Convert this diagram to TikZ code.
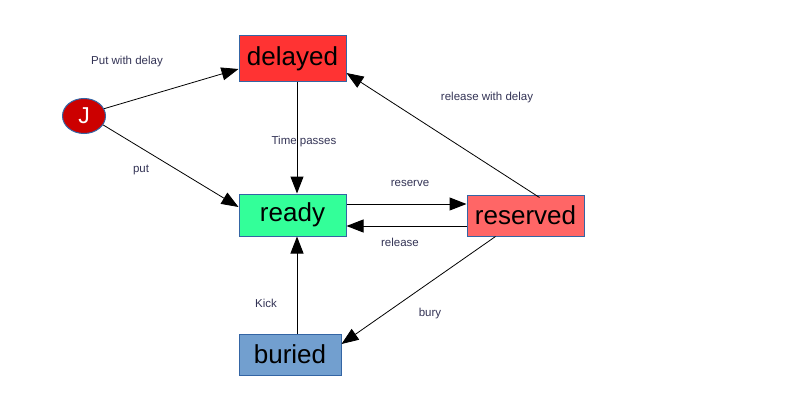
\documentclass[tikz,border=0pt]{standalone}
\usepackage{fontspec}
\setmainfont{Liberation Sans}
\usetikzlibrary{arrows.meta,shapes.geometric}
\definecolor{bord}{HTML}{3465A4}
\definecolor{cdel}{HTML}{FF3333}
\definecolor{crdy}{HTML}{33FF99}
\definecolor{cres}{HTML}{FF6666}
\definecolor{cbur}{HTML}{729FCF}
\definecolor{cj}{HTML}{CC0000}
\definecolor{lbl}{HTML}{333355}
\tikzset{
  state/.style={draw=bord, line width=1pt, rectangle, inner sep=0pt, font=\fontsize{26}{28}\selectfont, text=black},
  lab/.style={font=\fontsize{11.5}{13}\selectfont, text=lbl, inner sep=0pt},
  arr/.style={-{Triangle[length=17pt,width=13pt]}, line width=0.8pt, black},
  arrb/.style={-{Triangle[length=17pt,width=13pt]}, line width=1pt, black}
}
\begin{document}
\begin{tikzpicture}[x=1pt,y=-1pt]
\useasboundingbox (0,0) rectangle (794,404);
\fill[white] (0,0) rectangle (794,404);
\node[state, fill=cdel, minimum width=107pt, minimum height=45pt] (delayed) at (292.5,58.5) {delayed};
\node[state, fill=crdy, minimum width=107pt, minimum height=42pt] (ready) at (292.5,215) {ready};
\node[state, fill=cres, minimum width=117pt, minimum height=41pt] (reserved) at (525.5,215.5) {reserved};
\node[state, fill=cbur, minimum width=102pt, minimum height=41pt] (buried) at (290,354.5) {buried};
\node[ellipse, draw=bord, line width=1pt, fill=cj, minimum width=43pt, minimum height=35pt, inner sep=0pt, text=white, font=\fontsize{23}{25}\selectfont] (J) at (84,116) {J};

\draw[arr] (J.20) -- (delayed.west |- 0,69);
\draw[arr] (J.-25) -- (ready.west |- 0,207);
\draw[arrb] (delayed.south -| 297,0) -- (ready.north -| 297,0);
\draw[arrb] (ready.east |- 0,204) -- (reserved.west |- 0,204);
\draw[arrb] (reserved.west |- 0,226) -- (ready.east |- 0,226);
\draw[arr] (reserved.north) ++(14,3) coordinate (rs) -- (delayed.east |- 0,73);
\draw[arr] (reserved.south) ++(-30,0) coordinate (rb) -- (buried.east |- 0,344);
\draw[arrb] (buried.north -| 297,0) -- (ready.south -| 297,0);

\node[lab] (l1) at (127,62) {Put with delay};
\node[lab] (l2) at (141,170) {put};
\node[lab] (l3) at (304,142) {Time passes};
\node[lab] (l4) at (410,183) {reserve};
\node[lab] (l5) at (400,242) {release};
\node[lab] (l6) at (487,98) {release with delay};
\node[lab] (l7) at (266,303) {Kick};
\node[lab] (l8) at (430,314) {bury};
\end{tikzpicture}
\end{document}
